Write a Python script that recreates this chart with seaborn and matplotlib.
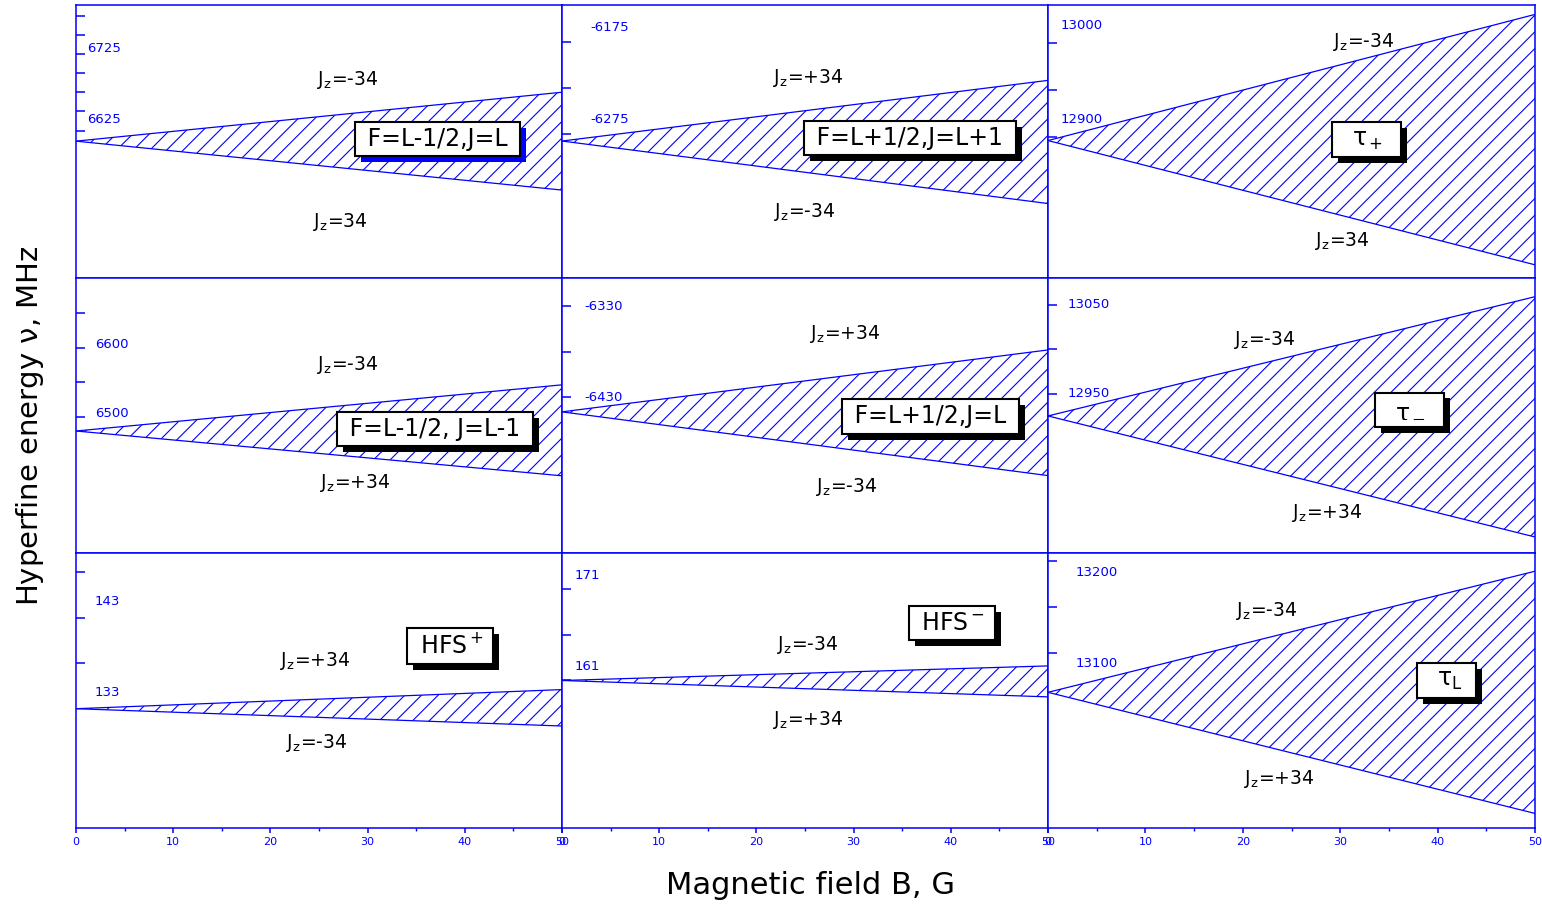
import numpy as np
import pandas as pd
import matplotlib
matplotlib.use("Agg")
import matplotlib.pyplot as plt
import matplotlib.patheffects as pe
import seaborn as sns

# ============================================
# DATA (MHz vs gauss)
# ============================================
b_field = [0, 50]

# common point at B=0, then upper / lower branch at B=50
band_start = [6595, -6298, 12878, 6474, -6446, 12925, 131.2, 159.5, 13068]
upper_end = [6664, -6232, 13012, 6541, -6378, 13059, 133.3, 161.1, 13201]
lower_end = [6526, -6366, 12746, 6409, -6516, 12789, 129.3, 157.7, 12935]

upper_jz = ["-34", "+34", "-34", "-34", "+34", "-34", "+34", "-34", "-34"]
lower_jz = ["34", "-34", "34", "+34", "-34", "+34", "-34", "+34", "+34"]

state_names = [" F=L-1/2,J=L ", " F=L+1/2,J=L+1 ", r"  $\tau_+$  ",
               " F=L-1/2, J=L-1 ", " F=L+1/2,J=L ", r"  $\tau_-$  ",
               r" HFS$^+$ ", r" HFS$^-$ ", r"  $\tau_L$  "]

ytick_values = [[6725, 6625], [-6175, -6275], [13000, 12900],
                [6600, 6500], [-6330, -6430], [13050, 12950],
                [143, 133], [171, 161], [13200, 13100]]

xtick_values = [0, 10, 20, 30, 40, 50]

# ============================================
# LAYOUT (axis ranges, tick marks, text places)
# ============================================
ylims = [(6402, 6787), (-6447, -6150), (12732, 13022),
         (6297, 6696), (-6601, -6299), (12771, 13080),
         (118.1, 148.3), (143.3, 173.5), (12919, 13221)]

minor_ticks = [[6610, 6637, 6664, 6691, 6718, 6745, 6772],
               [-6190, -6240, -6290],
               [12982, 12932, 12882],
               [6645, 6595, 6545, 6495],
               [-6330, -6380, -6430],
               [13050, 13000, 12950],
               [146.2, 141.2, 136.2],
               [169.6, 164.5, 159.5],
               [13212, 13162, 13111]]

label_pad_px = [11, 28, 13, 19, 22, 20, 19, 13, 28]

upper_pos = [(28.0, 6681), (25.3, -6229), (32.4, 12983),
             (28.0, 6570), (29.1, -6360), (22.3, 13010),
             (24.6, 136.4), (25.3, 163.4), (22.5, 13157)]
lower_pos = [(27.2, 6481), (25.0, -6375), (30.2, 12771),
             (28.7, 6399), (29.3, -6529), (28.7, 12816),
             (24.8, 127.4), (25.3, 155.2), (23.7, 12973)]
box_pos = [(37.2, 6598), (35.8, -6295), (32.7, 12879),
           (36.9, 6477), (37.9, -6451), (37.1, 12932),
           (38.5, 138.1), (40.1, 165.8), (40.9, 13081)]
shadow_colors = ["#0000ff"] + ["black"] * 8

BLUE = "#0000ff"

# ============================================
# STYLE
# ============================================
sns.set_style("white")
plt.rcParams["font.family"] = ["DejaVu Sans"]
plt.rcParams["text.color"] = "black"
plt.rcParams["mathtext.fontset"] = "stix"
plt.rcParams["mathtext.default"] = "regular"
plt.rcParams["hatch.linewidth"] = 0.8
plt.rcParams["hatch.color"] = BLUE

fig = plt.figure(figsize=(15.42, 9.05), dpi=100)

col_left = [76, 562, 1048]
col_width = [486, 486, 487]
row_top = [5, 278, 553]
row_height = [273, 275, 275]
W, H = 1542, 905

for i in range(9):
    r, c = divmod(i, 3)
    ax = fig.add_axes([col_left[c] / W, 1 - (row_top[r] + row_height[r]) / H,
                       col_width[c] / W, row_height[r] / H])

    df = pd.DataFrame({"B": b_field * 2,
                       "nu": [band_start[i], upper_end[i], band_start[i], lower_end[i]],
                       "branch": ["up", "up", "low", "low"]})
    sns.lineplot(data=df, x="B", y="nu", units="branch", estimator=None,
                 color=BLUE, lw=0.9, ax=ax, legend=False)
    ax.fill_between(b_field, [band_start[i], lower_end[i]], [band_start[i], upper_end[i]],
                    facecolor="none", edgecolor=BLUE, hatch="//", linewidth=0)

    ax.set_xlim(0, 50)
    ax.set_ylim(*ylims[i])
    ax.set_xlabel("")
    ax.set_ylabel("")
    for sp in ax.spines.values():
        sp.set_color(BLUE)
        sp.set_linewidth(1.1)

    # y axis: labels drawn inside, tick marks pointing inward
    ax.yaxis.remove_overlapping_locs = False
    ax.set_yticks(ytick_values[i])
    ax.set_yticklabels([str(v) for v in ytick_values[i]])
    ax.set_yticks(minor_ticks[i], minor=True)
    ax.tick_params(axis="y", which="major", length=0, pad=-label_pad_px[i] * 0.72,
                   labelsize=9.5, labelcolor=BLUE)
    ax.tick_params(axis="y", which="minor", left=True, direction="in", length=6.5,
                   width=1.1, color=BLUE)
    for lab in ax.get_yticklabels():
        lab.set_horizontalalignment("left")
        lab.set_verticalalignment("center")

    # x axis only labelled on the bottom row
    if r == 2:
        ax.set_xticks(xtick_values)
        ax.set_xticks(np.arange(5, 50, 10), minor=True)
        ax.tick_params(axis="x", which="major", bottom=True, direction="out", length=3.5,
                       width=1.1, color=BLUE, labelsize=8, labelcolor=BLUE, pad=3)
        ax.tick_params(axis="x", which="minor", bottom=True, direction="out", length=2.5,
                       width=1.0, color=BLUE)
    else:
        ax.set_xticks([])

    # branch labels
    ax.text(*upper_pos[i], "J$_z$=" + upper_jz[i], fontsize=13.5, ha="center", va="center")
    ax.text(*lower_pos[i], "J$_z$=" + lower_jz[i], fontsize=13.5, ha="center", va="center")

    # state box with drop shadow
    t = ax.text(*box_pos[i], state_names[i], fontsize=17, ha="center", va="center",
                color="black", zorder=5,
                bbox=dict(boxstyle="square,pad=0.22", fc="white", ec="black", lw=1.5))
    t.get_bbox_patch().set_path_effects([
        pe.SimplePatchShadow(offset=(4.3, -4.3), shadow_rgbFace=shadow_colors[i], alpha=1),
        pe.Normal()])

fig.text(30 / W, 1 - 426 / H, r"Hyperfine energy $\nu$, MHz", rotation=90,
         fontsize=21, ha="center", va="center")
fig.text(810 / W, 1 - 885 / H, "Magnetic field B, G", fontsize=22,
         ha="center", va="center")

fig.savefig("out.png", dpi=100)
